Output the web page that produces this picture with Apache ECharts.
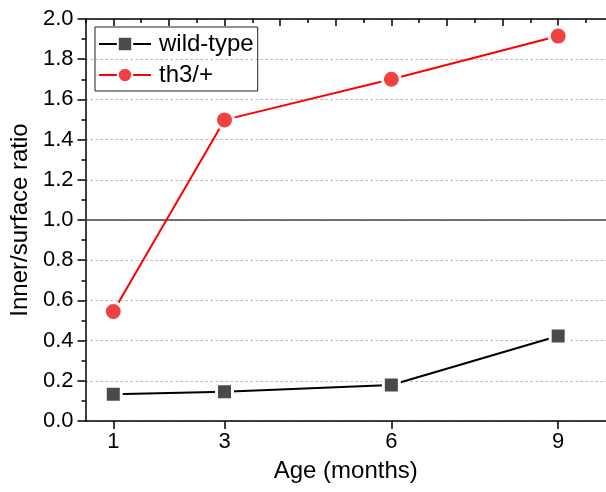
<!DOCTYPE html>
<html>
<head>
<meta charset="utf-8">
<script src="https://cdn.jsdelivr.net/npm/echarts@6/dist/echarts.min.js"></script>
<style>
html,body{margin:0;padding:0;background:#fff;}
#chart{width:606px;height:492px;}
</style>
</head>
<body>
<div id="chart"></div>
<script>
const ages = [1, 3, 6, 9];
const wildType = [0.133, 0.146, 0.179, 0.423];
const th3 = [0.545, 1.498, 1.700, 1.915];
const seriesNames = ['wild-type', 'th3/+'];
const bottomTicks = [1, 3, 6, 9];
const topMajorTicks = [1, 2, 3, 4, 5, 6, 7, 8, 9];
const topMinorTicks = [0.5, 1.5, 2.5, 3.5, 4.5, 5.5, 6.5, 7.5, 8.5, 9.5];
const refLine = 1.0;

const FONT = '"Liberation Sans", Arial, sans-serif';
const chart = echarts.init(document.getElementById('chart'), null, {renderer: 'canvas'});

const axisLineStyle = {color: '#000', width: 1.5};
const xBase = {type: 'value', min: 0.5, max: 9.86, splitLine: {show: false}};

const option = {
  backgroundColor: '#fff',
  animation: false,
  grid: {left: 84, top: 19, bottom: 71, right: 0, containLabel: false},
  legend: {
    orient: 'vertical',
    left: 95, top: 27,
    padding: [5, 4, 4, 3],
    borderColor: '#222', borderWidth: 1,
    itemWidth: 52, itemHeight: 18, itemGap: 7,
    itemStyle: {borderWidth: 2},
    textStyle: {fontSize: 24, fontFamily: FONT, color: '#000', lineHeight: 24, padding: [0, 0, 0, 3]},
    data: seriesNames
  },
  xAxis: [
    Object.assign({}, xBase, {
      position: 'bottom',
      axisLine: {onZero: false, lineStyle: axisLineStyle},
      axisTick: {customValues: bottomTicks, inside: false, length: 8, lineStyle: axisLineStyle},
      axisLabel: {customValues: bottomTicks, fontSize: 22, fontFamily: FONT, color: '#000', margin: 10},
      name: 'Age (months)', nameLocation: 'middle', nameGap: 38,
      nameTextStyle: {fontSize: 24, fontFamily: FONT, color: '#000'}
    }),
    Object.assign({}, xBase, {
      position: 'top',
      axisLine: {onZero: false, lineStyle: axisLineStyle},
      axisTick: {customValues: topMajorTicks, inside: true, length: 7, lineStyle: axisLineStyle},
      axisLabel: {show: false}
    }),
    Object.assign({}, xBase, {
      position: 'top',
      axisLine: {show: false, onZero: false},
      axisTick: {customValues: topMinorTicks, inside: true, length: 4, lineStyle: axisLineStyle},
      axisLabel: {show: false}
    })
  ],
  yAxis: {
    type: 'value', min: 0, max: 2, interval: 0.2,
    axisLine: {show: true, onZero: false, lineStyle: axisLineStyle},
    axisTick: {show: true, inside: false, length: 8, lineStyle: axisLineStyle},
    minorTick: {show: true, splitNumber: 2, length: 4, lineStyle: axisLineStyle},
    axisLabel: {fontSize: 22, fontFamily: FONT, color: '#000', margin: 12,
      formatter: v => v.toFixed(1)},
    splitLine: {show: true, lineStyle: {color: '#b8b8b8', width: 1.2, type: [2.5, 2.5]}},
    name: 'Inner/surface ratio', nameLocation: 'middle', nameGap: 40, nameRotate: 90,
    nameTextStyle: {fontSize: 24, fontFamily: FONT, color: '#000'}
  },
  series: [
    {
      name: seriesNames[0], type: 'line', xAxisIndex: 0,
      data: ages.map((a, i) => [a, wildType[i]]),
      symbol: 'rect', symbolSize: 16,
      itemStyle: {color: '#4a4a4a', borderColor: '#fff', borderWidth: 3},
      lineStyle: {color: '#000', width: 2},
      z: 3,
      markLine: {
        silent: true, symbol: 'none', label: {show: false},
        lineStyle: {color: '#444', type: 'solid', width: 1.6},
        data: [{yAxis: refLine}], z: 1
      }
    },
    {
      name: seriesNames[1], type: 'line', xAxisIndex: 0,
      data: ages.map((a, i) => [a, th3[i]]),
      symbol: 'circle', symbolSize: 18,
      itemStyle: {color: '#f04242', borderColor: '#fff', borderWidth: 3},
      lineStyle: {color: '#ff0000', width: 2},
      z: 4
    }
  ]
};
chart.setOption(option);
</script>
</body>
</html>
